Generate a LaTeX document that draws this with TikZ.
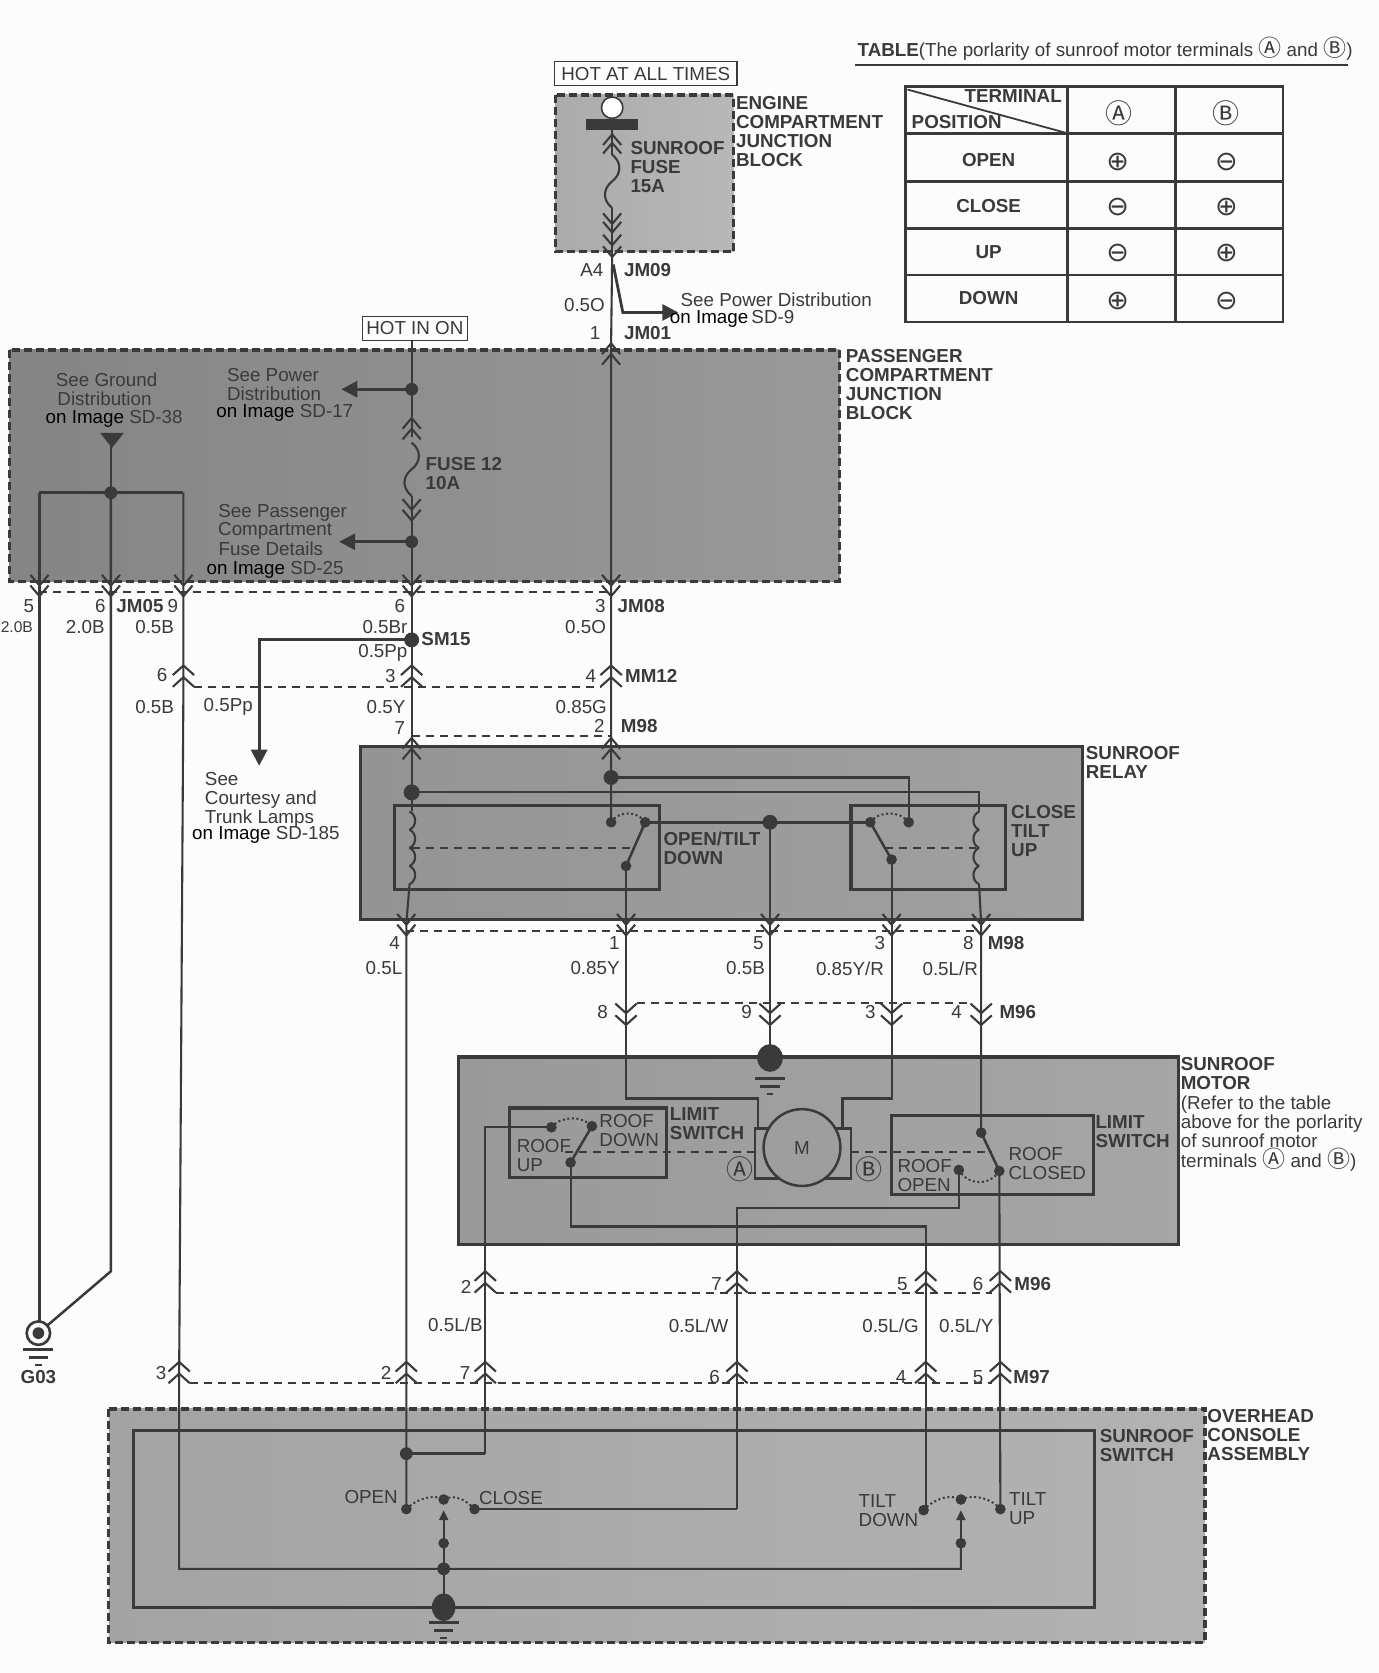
\documentclass[tikz,border=0pt]{standalone}
\usepackage{fontspec}
\setmainfont{Liberation Sans}
\newfontfamily\djv{DejaVu Sans}
\newfontfamily\cjksym{Noto Sans CJK SC}
\usetikzlibrary{arrows.meta,calc}
\definecolor{ink}{HTML}{3A3A3A}
\definecolor{txt}{HTML}{3A3A3A}
\definecolor{paper}{HTML}{FCFCFC}
\newcounter{tn}
\newcommand\lab[4][center]{\stepcounter{tn}\node[lbl,anchor=#1] (t\arabic{tn}) at (#2,#3) {#4};}
\newcommand\blab[4][center]{\stepcounter{tn}\node[lbl,anchor=#1,font=\sizeA\bfseries] (t\arabic{tn}) at (#2,#3) {#4};}
\newcommand\sizeA{\fontsize{18.8}{19.1}\selectfont}
\newcommand\sym[1]{{\cjksym\fontsize{23}{19}\selectfont #1}}
\newcommand\bsym[1]{{\cjksym\fontsize{27}{27}\selectfont #1}}
\newcommand\plmi[1]{{\djv\fontsize{27}{27}\selectfont #1}}
\newcommand\oni{\textcolor{black}{on Image}}
% chevrons: x, apex y
\newcommand\vch[2]{\draw[wire] ({#1-8.5},{#2-10}) -- (#1,#2) -- ({#1+8.5},{#2-10});}
\newcommand\ach[2]{\draw[wire] ({#1-8.5},{#2+10}) -- (#1,#2) -- ({#1+8.5},{#2+10});}
\newcommand\vlg[2]{\draw[wire] ({#1-10},{#2-9}) -- (#1,#2) -- ({#1+10},{#2-9}); \draw[wire] ({#1-10},{#2-20}) -- (#1,{#2-11}) -- ({#1+10},{#2-20});}
\newcommand\alg[2]{\draw[wire] ({#1-10},{#2+9}) -- (#1,#2) -- ({#1+10},{#2+9}); \draw[wire] ({#1-10},{#2+20}) -- (#1,{#2+11}) -- ({#1+10},{#2+20});}
\newcommand\fuse[2]{\draw[wire] (#1,#2) .. controls ({#1+9},{#2+7}) and ({#1+9},{#2+18}) .. (#1,{#2+25}) .. controls ({#1-9},{#2+32}) and ({#1-9},{#2+43}) .. (#1,{#2+50});}
\newcommand\gnd[2]{\draw[thickw,line width=3] ({#1-14},#2) -- ({#1+14},#2); \draw[thickw,line width=2.6] ({#1-9},{#2+8}) -- ({#1+9},{#2+8}); \draw[thickw,line width=2.2] ({#1-3},{#2+15}) -- ({#1+3},{#2+15});}
\newcommand\coil[3]{\foreach \k in {0,1,2,3}{\draw[wire] (#1,{#2+\k*17}) .. controls ({#1+#3},{#2+\k*17+3}) and ({#1+#3},{#2+\k*17+14}) .. (#1,{#2+\k*17+17});}}
\tikzset{
 x=1.0665pt,y=-1.0665pt,
 wire/.style={draw=ink,line width=2.1pt},
 thickw/.style={draw=ink,line width=2.5pt},
 boxl/.style={draw=ink,line width=3.2pt},
 tl/.style={draw=ink,line width=2.6pt},
 dline/.style={draw=ink,line width=2pt,dash pattern=on 8pt off 6pt},
 dotw/.style={draw=ink,line width=2pt,dash pattern=on 2pt off 2.6pt},
 blk/.style={draw=ink,line width=3.4pt,dash pattern=on 8pt off 4pt},
 solidb/.style={draw=ink,line width=3.2pt},
 lbl/.style={text=txt,inner sep=0pt,font=\sizeA,align=left},
 tag/.style={draw=ink,line width=1.2pt,text=txt,font=\sizeA,inner sep=0pt,minimum height=24pt},
 jd/.style={fill=ink,draw=none},
 parrow/.style={draw=ink,line width=2.8pt,-{Triangle[length=16pt,width=16pt]}},
}
\begin{document}
\begin{tikzpicture}
\useasboundingbox (0,0) rectangle (1293,1568.7);
\fill[paper] (0,0) rectangle (1293,1568.7);
% ---- blocks
\path[left color=black!33,right color=black!28,blk] (521,89) rectangle (688,236);
\path[left color=black!48,right color=black!40,blk] (9,328) rectangle (787,545);
\path[left color=black!42,right color=black!37,solidb] (338,700) rectangle (1015,862);
\path[left color=black!40,right color=black!35,solidb] (430,991) rectangle (1105,1167);
\path[left color=black!36,right color=black!30,blk] (102,1321) rectangle (1130,1540);
\draw[boxl] (125,1341) rectangle (1026,1507);
\draw[boxl] (370,755) rectangle (618,834);
\draw[boxl] (798,755) rectangle (943,834);
\draw[boxl] (478,1039) rectangle (625,1104);
\draw[boxl] (836,1046) rectangle (1025,1120);
% ---- coordinates
\coordinate (barT) at (574,117);
\coordinate (jm09) at (574,241);
\coordinate (jm01) at (573,322);
\coordinate (jm08) at (573,556);
\coordinate (mm12) at (573,625);
\coordinate (m98t) at (573,693);
\coordinate (rD1) at (573,729);
\coordinate (rC1) at (573,771);
\coordinate (rC2) at (605,771);
\coordinate (rB1) at (587,812);
\coordinate (rD2) at (386,743);
\coordinate (hot) at (386,320);
\coordinate (s17) at (386,365);
\coordinate (s25) at (386,508);
\coordinate (sm15) at (386,600);
\coordinate (cMid) at (722,771);
\coordinate (rC3) at (816,771);
\coordinate (rC4) at (852,771);
\coordinate (rB2) at (836,806);
\coordinate (gA) at (104,462);
\coordinate (g03) at (36,1250);
% ---- table
\draw[tl] (849,81) rectangle (1203,302);
\draw[tl] (1001,81) -- (1001,302) (1102,81) -- (1102,302);
\draw[tl] (849,125) -- (1203,125) (849,170) -- (1203,170) (849,214) -- (1203,214) (849,258) -- (1203,258);
\draw[line width=1.8pt,draw=ink] (851,84) -- (1001,125);
\draw[line width=2.8pt,draw=ink] (802,61) -- (1264,61);
\lab[west]{804}{46}{\textbf{TABLE}(The porlarity of sunroof motor terminals \sym{Ⓐ} and \sym{Ⓑ})}
\blab{950}{90}{TERMINAL}
\blab{897}{114}{POSITION}
\lab{1049}{106}{\bsym{Ⓐ}}
\lab{1150}{106}{\bsym{Ⓑ}}
\blab{927}{150}{OPEN}
\blab{927}{193}{CLOSE}
\blab{927}{236}{UP}
\blab{927}{279}{DOWN}
\lab{1048}{152}{\plmi{⊕}}\lab{1150}{152}{\plmi{⊖}}
\lab{1048}{194}{\plmi{⊖}}\lab{1150}{194}{\plmi{⊕}}
\lab{1048}{237}{\plmi{⊖}}\lab{1150}{237}{\plmi{⊕}}
\lab{1048}{282}{\plmi{⊕}}\lab{1150}{282}{\plmi{⊖}}
% ---- engine block
\node[tag,minimum width=182.4pt] (hotall) at (605.5,69) {HOT AT ALL TIMES};
\filldraw[fill=white,draw=ink,line width=1.6pt] (574,101) circle (10);
\fill[ink] (549,112) rectangle (598,122);
\draw[wire] (barT) -- ++(0,28);
\fuse{574}{145}
\draw[wire] (574,195) -- (jm09);
\vch{574}{210}\vch{574}{218}\ach{574}{126}\ach{574}{134}
\vch{574}{230}\vch{574}{241}
\blab[north west]{591}{132}{SUNROOF\\FUSE\\15A}
\blab[north west]{690}{90}{ENGINE\\COMPARTMENT\\JUNCTION\\BLOCK}
\lab{555}{253}{A4}
\blab[west]{585}{253}{JM09}
\lab{548}{286}{0.5O}
\lab{558}{312}{1}
\blab[west]{585}{312}{JM01}
\draw[parrow] (575,248) -- (584,293) -- (636,293);
\lab[west]{638}{281}{See Power Distribution}
\lab[west]{628}{299}{\oni\,SD-9}
% ---- passenger block
\node[tag,minimum width=104.5pt] (hotin) at (389,308) {HOT IN ON};
\draw[wire] (jm09) -- (jm01) -- (jm08) -- (mm12) -- (m98t) -- (rD1) -- (rC1);
\ach{573}{322}\ach{573}{332}
\draw[wire] (hot) -- (s17) -- ++(0,45);
\ach{386}{392}\ach{386}{402}
\fuse{386}{415}
\draw[wire] (386,465) -- (s25) -- (sm15) -- (386,700);
\vch{386}{478}\vch{386}{488}
\fill[jd] (s17) circle (6); \fill[jd] (s25) circle (6);
\draw[parrow] (s17) -- (320,365);
\draw[parrow] (s25) -- (318,508);
\lab[north]{257}{345}{See Power\\Distribution}
\lab[north]{267}{379}{\oni{} SD-17}
\lab[north]{100}{349}{See Ground}
\lab[north]{98}{367}{Distribution}
\lab[north]{107}{385}{\oni{} SD-38}
\fill[ink] (94,406) -- (116,406) -- (105,420) -- cycle;
\draw[wire] (104,412) -- (gA);
\draw[thickw] (37,462) -- (172,462);
\fill[jd] (gA) circle (6);
\draw[wire] (37,462) -- (37,1240);
\draw[thickw] (gA) -- (104,1192) -- (g03);
\draw[wire] (172,462) -- (172,640) -- (168,1285) -- (168,1471) -- (901,1471) -- (901,1447);
\blab[north west]{399}{429}{FUSE 12\\10A}
\lab[north]{265}{473}{See Passenger}
\lab[north]{258}{490}{Compartment}
\lab[north]{254}{508}{Fuse Details}
\lab[north]{258}{526}{\oni{} SD-25}
\blab[north west]{793}{327}{PASSENGER\\COMPARTMENT\\JUNCTION\\BLOCK}
\foreach \x in {37,104,172,386,573}{\vch{\x}{549}\vch{\x}{559}}
\draw[dline] (37,555) -- (573,555);
\lab{27}{568}{5}\lab{94}{568}{6}\blab[west]{109}{568}{JM05}\lab{162}{568}{9}
\lab{375}{568}{6}\lab{563}{568}{3}\blab[west]{579}{568}{JM08}
\stepcounter{tn}\node[lbl,anchor=east,font=\fontsize{15.6}{17}\selectfont] (t\arabic{tn}) at (31,588) {2.0B};
\lab{80}{588}{2.0B}\lab{145}{588}{0.5B}\lab{361}{588}{0.5Br}\lab{549}{588}{0.5O}
% ---- SM15
\fill[jd] (sm15) circle (7);
\draw[parrow] (sm15) -- (243,600) -- (243,718);
\blab[west]{395}{599}{SM15}
\lab{359}{612}{0.5Pp}
\foreach \x in {172,386,573}{\alg{\x}{624}}
\draw[dline] (182,644) -- (563,644);
\lab{152}{633}{6}\lab{366}{634}{3}\lab{554}{634}{4}\blab[west]{586}{634}{MM12}
\lab{145}{663}{0.5B}\lab{214}{663}{0.5Pp}\lab{362}{663}{0.5Y}\lab{545}{663}{0.85G}
\lab{375}{683}{7}\lab{562}{681}{2}\blab[west]{582}{681}{M98}
\draw[dline] (386,690) -- (573,690);
\foreach \x in {386,573}{\ach{\x}{692}\ach{\x}{702}}
\lab[north west]{192}{724}{See\\Courtesy and\\Trunk Lamps}
\lab[west]{180}{783}{\oni{} SD-185}
% ---- relay
\blab[north west]{1018}{700}{SUNROOF\\RELAY}
\draw[wire] (386,700) -- (rD2) -- (386,760);
\coil{384}{761}{7}
\draw[wire] (384,829) -- (381,866) -- (381,1285) -- (381,1415);
\fill[jd] (rD2) circle (7.5);
\draw[wire] (rD2) -- (918,743) -- (918,761);
\coil{918}{761}{-7}
\draw[wire] (918,829) -- (920,866) -- (920,1062);
\fill[jd] (rD1) circle (7);
\draw[wire] (rD1) -- (852,729) -- (rC4);
\fill[jd] (rC1) circle (5); \fill[jd] (rC2) circle (5);
\draw[dotw] (rC1) .. controls (580,760) and (598,760) .. (rC2);
\draw[thickw] (rC2) -- (rB1);
\fill[jd] (rB1) circle (5);
\draw[wire] (rB1) -- (587,950);
\draw[thickw] (rC2) -- (cMid) -- (rC3);
\fill[jd] (cMid) circle (7);
\draw[wire] (cMid) -- (722,992);
\fill[jd] (rC3) circle (5); \fill[jd] (rC4) circle (5);
\draw[dotw] (rC3) .. controls (824,760) and (844,760) .. (rC4);
\draw[thickw] (rC3) -- (rB2);
\fill[jd] (rB2) circle (5);
\draw[wire] (rB2) -- (836,950);
\draw[dline] (386,795) -- (592,795);
\draw[dline] (830,795) -- (915,795);
\blab[north west]{622}{780}{OPEN/TILT\\DOWN}
\blab[north west]{948}{755}{CLOSE\\TILT\\UP}
\foreach \x in {381,587,722,836,920}{\vch{\x}{867}\vch{\x}{877}}
\draw[dline] (381,873) -- (920,873);
\lab{370}{884}{4}\lab{576}{884}{1}\lab{711}{884}{5}\lab{825}{884}{3}\lab{908}{884}{8}\blab[west]{926}{884}{M98}
\lab{360}{908}{0.5L}\lab{558}{908}{0.85Y}\lab{699}{908}{0.5B}\lab{797}{908}{0.85Y/R}\lab{891}{908}{0.5L/R}
% ---- M96 upper
\foreach \x in {587,722,836,920}{\vlg{\x}{961}}
\draw[dline] (597,940) -- (910,940);
\lab{565}{949}{8}\lab{700}{949}{9}\lab{816}{949}{3}\lab{897}{949}{4}\blab[west]{937}{949}{M96}
% ---- motor
\fill[jd] (722,992) ellipse (12 and 13);
\gnd{722}{1011}
\blab[north west]{1107}{991}{SUNROOF\\MOTOR}
\lab[north west]{1107}{1027}{(Refer to the table\\above for the porlarity\\of sunroof motor\\terminals \sym{Ⓐ} and \sym{Ⓑ})}
\draw[wire] (rB1) -- (587,1030) -- (711,1030) -- (711,1058);
\draw[wire] (rB2) -- (836,1030) -- (790,1030) -- (790,1058);
\draw[dline] (530,1080) -- (708,1080);
\draw[dline] (798,1080) -- (930,1080);
\draw[thickw] (708,1058) rectangle (798,1105);
\filldraw[fill=black!38,thickw] (752,1076) circle (36);
\lab{752}{1076}{M}
\lab{694}{1096}{\bsym{Ⓐ}}
\lab{815}{1096}{\bsym{Ⓑ}}
\blab[north west]{628}{1038}{LIMIT\\SWITCH}
\blab[north west]{1027}{1046}{LIMIT\\SWITCH}
\lab[north]{590}{1045}{ROOF\\DOWN}
\lab[north]{510}{1068}{ROOF\\UP}
\lab[north]{867}{1087}{ROOF\\OPEN}
\lab[north]{982}{1076}{ROOF\\CLOSED}
\coordinate (lC1) at (517,1057);\coordinate (lC2) at (555,1056);\coordinate (lB) at (535,1090);
\fill[jd] (lC1) circle (5);\fill[jd] (lC2) circle (5);\fill[jd] (lB) circle (5);
\draw[dotw] (lC1) .. controls (526,1046) and (546,1046) .. (lC2);
\draw[thickw] (lC2) -- (lB);
\draw[wire] (lC1) -- (455,1057) -- (455,1363);
\draw[wire] (lB) -- (535,1150) -- (868,1150) -- (868,1416);
\coordinate (rrA) at (920,1062);\coordinate (rrB) at (937,1098);\coordinate (rrC) at (899,1097);
\fill[jd] (rrA) circle (5);\fill[jd] (rrB) circle (5);\fill[jd] (rrC) circle (5);
\draw[thickw] (rrA) -- (rrB);
\draw[dotw] (rrC) .. controls (908,1112) and (928,1112) .. (rrB);
\draw[wire] (rrB) -- (938,1415);
\draw[wire] (rrC) -- (899,1133) -- (691,1133) -- (691,1415);
\foreach \x in {455,691,868,938}{\alg{\x}{1192}}
\draw[dline] (465,1212) -- (930,1212);
\lab{437}{1207}{2}\lab{672}{1204}{7}\lab{846}{1204}{5}\lab{917}{1204}{6}\blab[west]{951}{1204}{M96}
\lab{427}{1242}{0.5L/B}\lab{655}{1243}{0.5L/W}\lab{835}{1243}{0.5L/G}\lab{906}{1243}{0.5L/Y}
% ---- M97
\foreach \x in {168,381,455,691,868,938}{\alg{\x}{1277}}
\draw[dline] (178,1297) -- (930,1297);
\lab{151}{1287}{3}\lab{362}{1287}{2}\lab{436}{1287}{7}\lab{670}{1291}{6}\lab{845}{1291}{4}\lab{917}{1291}{5}\blab[west]{950}{1291}{M97}
% ---- G03
\filldraw[fill=paper,draw=ink,line width=2.6pt] (36,1250) circle (11);
\fill[ink] (36,1250) circle (5.5);
\gnd{36}{1265}
\blab{36}{1291}{G03}
% ---- overhead
\blab[north west]{1132}{1321}{OVERHEAD\\CONSOLE\\ASSEMBLY}
\blab[north west]{1031}{1340}{SUNROOF\\SWITCH}
\coordinate (oJ) at (381,1363);\coordinate (oA) at (381,1415);\coordinate (oT) at (416,1406);\coordinate (oB) at (445,1415);
\coordinate (oM) at (416,1447);\coordinate (oL) at (416,1471);\coordinate (oG) at (416,1507);
\fill[jd] (oJ) circle (6);
\draw[thickw] (oJ) -- (455,1363);
\fill[jd] (oA) circle (5);\fill[jd] (oT) circle (5);\fill[jd] (oB) circle (5);
\draw[dotw] (oA) .. controls (390,1406) and (406,1400) .. (oT) .. controls (428,1400) and (438,1408) .. (oB);
\draw[thickw] (oB) -- (691,1415);
\draw[wire,-{Triangle[length=10pt,width=9pt]}] (oG) -- (oL) -- (oM) -- (416,1416);
\fill[jd] (oM) circle (5);\fill[jd] (oL) circle (6);
\fill[jd] (oG) ellipse (11 and 13);
\gnd{416}{1521}
\lab{348}{1404}{OPEN}
\lab[west]{449}{1405}{CLOSE}
\coordinate (pA) at (866,1416);\coordinate (pT) at (901,1406);\coordinate (pB) at (938,1415);\coordinate (pM) at (901,1447);
\fill[jd] (pA) circle (5);\fill[jd] (pT) circle (5);\fill[jd] (pB) circle (5);
\draw[dotw] (pA) .. controls (875,1406) and (890,1400) .. (pT) .. controls (915,1400) and (930,1406) .. (pB);
\draw[wire,-{Triangle[length=10pt,width=9pt]}] (pM) -- (901,1416);
\fill[jd] (pM) circle (5);
\lab[north west]{805}{1401}{TILT\\DOWN}
\lab[north west]{946}{1399}{TILT\\UP}
\end{tikzpicture}
\end{document}
